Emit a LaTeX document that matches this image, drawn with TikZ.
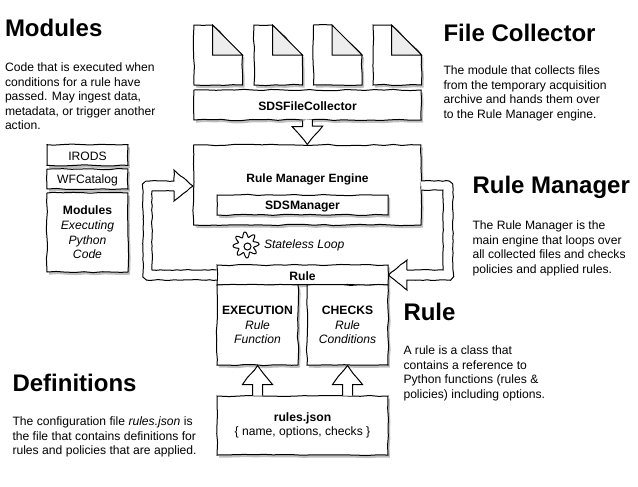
\documentclass[tikz,border=0pt]{standalone}
\usepackage{fontspec}
\setmainfont{Liberation Sans}
\usetikzlibrary{shadows,decorations.pathmorphing}

\tikzset{every picture/.style={line width=0.75pt}}
\tikzset{
	sketch/.style={decorate,decoration={random steps,segment length=7pt,amplitude=0.5pt}},
	loopsketch/.style={decorate,decoration={random steps,segment length=3pt,amplitude=0.3pt}},
	sketchshadow/.style={drop shadow={shadow xshift=1.5pt,shadow yshift=-2pt,fill=black!25,opacity=1}},
	blockbox/.style={draw,fill=white,sketch,sketchshadow,inner sep=0pt,align=center,font=\fontsize{9.1}{11}\selectfont,execute at begin node={\rule{0pt}{8.8pt}}},
	blockarrow/.style={draw,fill=white,sketch},
	looparrow/.style={draw,fill=white,loopsketch},
	heading/.style={anchor=west,inner sep=0pt,font=\fontsize{18}{20}\selectfont\bfseries},
	bodytext/.style={anchor=north west,inner sep=0pt,align=left,font=\fontsize{9.1}{10.9}\selectfont},
}

\begin{document}
\begin{tikzpicture}[x=0.75pt,y=0.75pt,yscale=-1,xscale=1]
	\useasboundingbox (0,0) rectangle (638,486);

	%Shape: Files
	\foreach \filex in {194,254,313.5,373}{
		\draw [sketch,sketchshadow,fill=white] (\filex,25) -- (\filex+18.5,25) -- (\filex+48.5,55) -- (\filex+48.5,85) -- (\filex,85) -- cycle ;
		\draw [fill=black!7] (\filex+18.5,25) -- (\filex+18.5,55) -- (\filex+48.5,55) -- cycle ;
	}

	%Shape: Boxes
	\node (collector) [blockbox,minimum width=170.25pt,minimum height=22.5pt] at (307.5,105) {\textbf{SDSFileCollector}};
	\node (engine) [blockbox,minimum width=170.6pt,minimum height=60pt] at (307.25,185) {};
	\node (enginelabel) [inner sep=0pt,font=\fontsize{9}{11}\selectfont\bfseries] at (307.5,179) {Rule Manager Engine};
	\node (manager) [blockbox,minimum width=128.25pt,minimum height=15pt] at (302.5,205) {\textbf{SDSManager}};
	\node (rule) [blockbox,minimum width=128.25pt,minimum height=15pt] at (302.5,275) {\textbf{Rule}};
	\node (execution) [blockbox,minimum width=60.75pt,minimum height=60pt] at (257.5,325) {\textbf{EXECUTION}\\\textit{Rule}\\\textit{Function}};
	\node (checks) [blockbox,minimum width=60.75pt,minimum height=60pt] at (347.5,325) {\textbf{CHECKS}\\\textit{Rule}\\\textit{Conditions}};
	\node (rules) [blockbox,execute at begin node={\rule{0pt}{11.5pt}},minimum width=128.25pt,minimum height=44.25pt] at (302.5,425.5) {\textbf{rules.json}\\\{ name, options, checks \}};
	\node (irods) [blockbox,minimum width=60.75pt,minimum height=15.5pt] at (87.5,155) {IRODS};
	\node (wfcatalog) [blockbox,minimum width=60.75pt,minimum height=15pt] at (87.5,179) {WFCatalog};
	\node (modules) [blockbox,minimum width=60.75pt,minimum height=59.25pt] at (87.5,232.5) {\textbf{Modules}\\\textit{Executing}\\\textit{Python}\\\textit{Code}};

	%Straight Lines: block arrows
	\draw [blockarrow] (collector.south) ++(-5,0) -- ++(0,6) -- ++(-10.5,0) -- (engine.north) -- ++(15.5,-18.5) -- ++(-10.5,0) -- ++(0,-6.5) ;
	\draw [blockarrow] (execution.south |- rules.north) ++(-5,0) -- ++(0,-11) -- ++(-10,0) -- (execution.south) -- ++(15,19) -- ++(-10,0) -- ++(0,11) ;
	\draw [blockarrow] (checks.south |- rules.north) ++(-5,0) -- ++(0,-11) -- ++(-10,0) -- (checks.south) -- ++(15,19) -- ++(-10,0) -- ++(0,11) ;

	%Straight Lines: stateless loop
	\coordinate (looptip) at (193.5,186);
	\draw [looparrow] (rule.west) ++(0,-5) -| (152,191) -- (174,191) -- (174,201) -- (engine.west |- looptip) -- (174,170) -- (174,181) [rounded corners=5pt] -- (143,181) -- (143,280) [sharp corners] -- (217,280) ;
	\draw [looparrow] (engine.east |- 0,190) -- (443,190) -- (443,270) -- (407,270) -- (407,260) -- (rule.east) -- (407,290) -- (407,280) [rounded corners=5pt] -- (453,280) -- (453,181) [sharp corners] -- (421,181) ;

	%Shape: Gear
	\draw [fill=white] plot [domain=0:360,samples=120,smooth] ({246+(10.5+2.5*cos(8*\x+40))*cos(\x)},{245+(10.5+2.5*cos(8*\x+40))*sin(\x)}) -- cycle ;
	\draw (247.5,246.5) circle (3.5) ;

	% Text Node
	\node (loop) [anchor=west,inner sep=0pt,font=\fontsize{9.1}{11}\selectfont\itshape] at (263.5,245) {Stateless Loop};

	% Text Node
	\node (modulestitle) [heading] at (4.5,28) {Modules};
	\node (modulesbody) [bodytext] at (4.5,62.5) {Code that is executed when\\conditions for a rule have\\passed. May ingest data,\\metadata, or trigger another\\action.};
	% Text Node
	\node (collectortitle) [heading] at (443,33) {File Collector};
	\node (collectorbody) [bodytext] at (443,65.5) {The module that collects files\\from the temporary acquisition\\archive and hands them over\\to the Rule Manager engine.};
	% Text Node
	\node (managertitle) [heading] at (472,187) {Rule Manager};
	\node (managerbody) [bodytext] at (472,220.5) {The Rule Manager is the\\main engine that loops over\\all collected files and checks\\policies and applied rules.};
	% Text Node
	\node (ruletitle) [heading] at (403,312) {Rule};
	\node (rulebody) [bodytext] at (403,345.5) {A rule is a class that\\contains a reference to\\Python functions (rules \&\\policies) including options.};
	% Text Node
	\node (defstitle) [heading] at (12,383) {Definitions};
	\node (defsbody) [bodytext] at (12,416.5) {The configuration file \textit{rules.json} is\\the file that contains definitions for\\rules and policies that are applied.};
\end{tikzpicture}
\end{document}
